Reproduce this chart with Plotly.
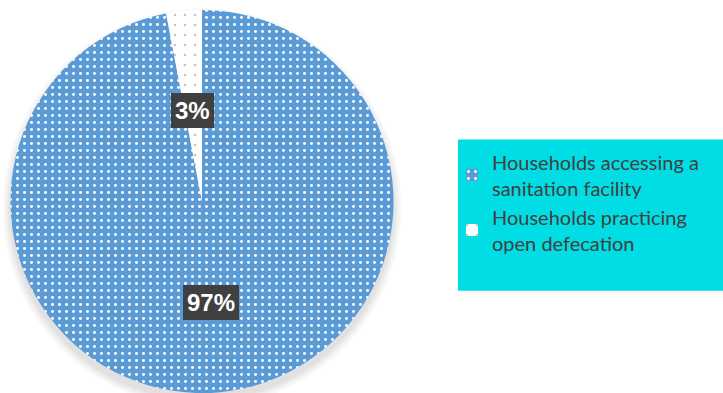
import math
import plotly.graph_objects as go

# Household sanitation split
labels = [
    "Households accessing a<br>sanitation facility",
    "Households practicing<br>open defecation",
]
values = [97, 3]
slice_colors = ["#5B9BD5", "#FFFFFF"]
dot_colors = ["#FFFFFF", "#C4C4C4"]
dot_sizes = [7, 10]
dot_solidity = [0.14, 0.05]

W, H = 723, 393
M_TOP = 10
# pie centre / radius in pixels (pie domain spans the full plot height)
R = (H - M_TOP) / 2
CX, CY = 202, M_TOP + R

fig = go.Figure()

fig.add_trace(go.Pie(
    labels=labels,
    values=values,
    sort=False,
    direction="clockwise",
    rotation=0,
    textinfo="none",
    hoverinfo="label+percent",
    domain=dict(x=[0, 2 * CX / W], y=[0, 1]),
    marker=dict(
        colors=slice_colors,
        line=dict(width=0),
        pattern=dict(
            shape=[".", "."],
            fgcolor=dot_colors,
            bgcolor=slice_colors,
            size=dot_sizes,
            solidity=dot_solidity,
            fillmode="replace",
        ),
    ),
))

# soft drop shadow under the pie
shapes = []
for grow in [8, 6, 4, 2.5, 1]:
    shapes.append(dict(
        type="circle", layer="below",
        xref="paper", yref="paper",
        xsizemode="pixel", ysizemode="pixel",
        xanchor=CX / W, yanchor=1 - (CY + 1.5) / H,
        x0=-(R + grow), x1=R + grow, y0=-(R + grow), y1=R + grow,
        fillcolor="rgba(0,0,0,0.022)", line=dict(width=0),
    ))

# legend panel
shapes.append(dict(
    type="rect", layer="below", xref="paper", yref="paper",
    x0=458 / W, x1=1, y0=1 - 288 / H, y1=1 - 133 / H,
    fillcolor="#00DDE4", line=dict(width=0),
))

# percentage labels at ~half radius along each slice's mid-angle
annotations = []
total = sum(values)
cum = 0
for v in values:
    theta = 2 * math.pi * (cum + v / 2) / total
    cum += v
    px = CX + 0.515 * R * math.sin(theta)
    py = CY - 0.515 * R * math.cos(theta)
    annotations.append(dict(
        x=px / W, y=1 - py / H, xref="paper", yref="paper",
        text=f"{round(100 * v / total)}%", showarrow=False,
        font=dict(family="Liberation Sans, Arial", size=24, color="white", weight="bold"),
        bgcolor="#404040", bordercolor="#404040", borderwidth=1, borderpad=3,
        xanchor="center", yanchor="middle",
    ))

fig.update_layout(
    width=W, height=H,
    margin=dict(l=0, r=0, t=M_TOP, b=0),
    paper_bgcolor="white",
    plot_bgcolor="white",
    shapes=shapes,
    annotations=annotations,
    showlegend=True,
    legend=dict(
        x=452 / W, y=1 - 136 / H, xanchor="left", yanchor="top",
        bgcolor="rgba(0,0,0,0)",
        font=dict(family="Lato, Open Sans, sans-serif", size=20, color="#404040"),
        traceorder="normal",
    ),
)

fig.write_html("out.html")
